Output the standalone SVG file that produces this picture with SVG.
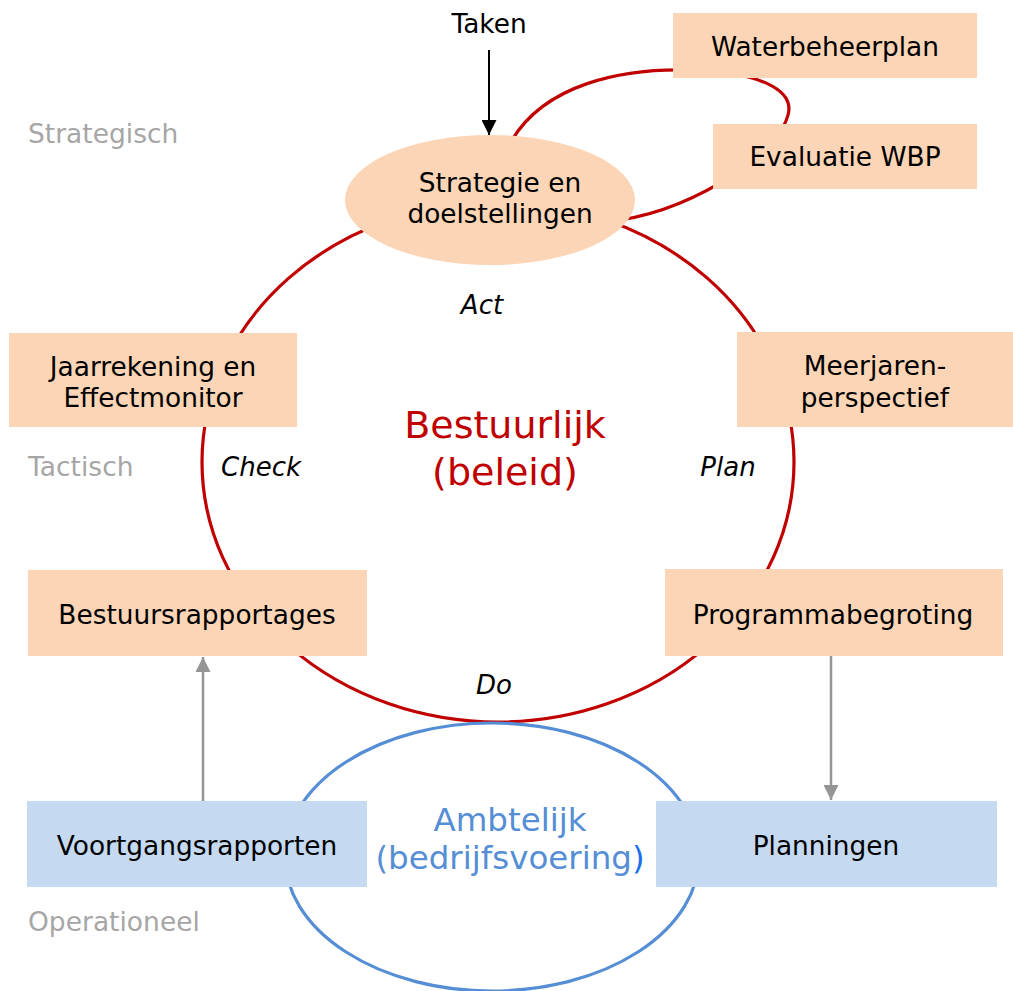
<svg xmlns="http://www.w3.org/2000/svg" width="1013" height="991" viewBox="0 0 1013 991">
<defs>
<style>
text{font-family:"DejaVu Sans","Verdana",sans-serif;}
.t{font-size:26.4px;fill:#000;text-anchor:middle;}
.lvl{font-size:26.5px;fill:#A6A6A6;}
.it{font-size:26px;font-style:italic;fill:#000;text-anchor:middle;}
.peach{fill:#FBD5B5;}
.blue{fill:#C5D9F1;}
.red{fill:none;stroke:#C00000;stroke-width:3.2;}
</style>
<marker id="ab" viewBox="0 0 10 10" refX="10" refY="5" markerWidth="15" markerHeight="15" markerUnits="userSpaceOnUse" orient="auto"><path d="M0,0 L10,5 L0,10 z" fill="#000"/></marker>
<marker id="ag" viewBox="0 0 10 10" refX="10" refY="5" markerWidth="15" markerHeight="15" markerUnits="userSpaceOnUse" orient="auto"><path d="M0,0 L10,5 L0,10 z" fill="#959595"/></marker>
</defs>
<rect width="1013" height="991" fill="#fff"/>
<g id="cycles">
<ellipse class="red" cx="498" cy="462" rx="296" ry="260"/>
<path class="red" d="M512,140 C545,85 620,68 690,70 C760,72 795,90 788,115 C780,150 700,208 620,220"/>
<ellipse cx="492" cy="857" rx="207" ry="134" fill="none" stroke="#558ED5" stroke-width="3.2"/>
</g>
<g id="connectors">
<line x1="489" y1="50" x2="489" y2="135" stroke="#000" stroke-width="2" marker-end="url(#ab)"/>
<line x1="203" y1="801" x2="203" y2="657" stroke="#959595" stroke-width="2.5" marker-end="url(#ag)"/>
<line x1="831" y1="656" x2="831" y2="800" stroke="#959595" stroke-width="2.5" marker-end="url(#ag)"/>
</g>
<g id="strategie"><ellipse class="peach" cx="490" cy="200" rx="145" ry="65"/><text class="t" x="500" y="192">Strategie en</text><text class="t" x="500" y="223">doelstellingen</text></g>
<g id="waterbeheerplan"><rect class="peach" x="673" y="13" width="304" height="65"/><text class="t" x="825" y="56">Waterbeheerplan</text></g>
<g id="evaluatie"><rect class="peach" x="713" y="124" width="264" height="65"/><text class="t" x="845" y="166">Evaluatie WBP</text></g>
<g id="jaarrekening"><rect class="peach" x="9" y="333" width="288" height="94"/><text class="t" x="153" y="376">Jaarrekening en</text><text class="t" x="153" y="407">Effectmonitor</text></g>
<g id="meerjaren"><rect class="peach" x="737" y="332" width="276" height="95"/><text class="t" x="875" y="375">Meerjaren-</text><text class="t" x="875" y="407">perspectief</text></g>
<g id="bestuursrapportages"><rect class="peach" x="28" y="570" width="339" height="86"/><text class="t" x="197" y="624">Bestuursrapportages</text></g>
<g id="programmabegroting"><rect class="peach" x="665" y="569" width="338" height="87"/><text class="t" x="833" y="624">Programmabegroting</text></g>
<g id="voortgangsrapporten"><rect class="blue" x="27" y="801" width="340" height="86"/><text class="t" x="197" y="855">Voortgangsrapporten</text></g>
<g id="planningen"><rect class="blue" x="656" y="801" width="341" height="86"/><text class="t" x="826" y="855">Planningen</text></g>
<g id="labels">
<text class="t" x="489" y="33">Taken</text>
<text class="lvl" x="28" y="143">Strategisch</text>
<text class="lvl" x="28" y="476">Tactisch</text>
<text class="lvl" x="28" y="931">Operationeel</text>
<text class="it" x="482" y="314">Act</text>
<text class="it" x="261" y="476">Check</text>
<text class="it" x="728" y="476">Plan</text>
<text class="it" x="494" y="694">Do</text>
<text x="505" y="438" font-size="38" fill="#C00000" text-anchor="middle">Bestuurlijk</text>
<text x="505" y="485" font-size="38" fill="#C00000" text-anchor="middle">(beleid)</text>
<text x="510" y="831" font-size="32.5" fill="#558ED5" text-anchor="middle">Ambtelijk</text>
<text x="510" y="869" font-size="32.5" fill="#558ED5" text-anchor="middle">(bedrijfsvoering<tspan fill="#1A6EF0">)</tspan></text>
</g>
</svg>
